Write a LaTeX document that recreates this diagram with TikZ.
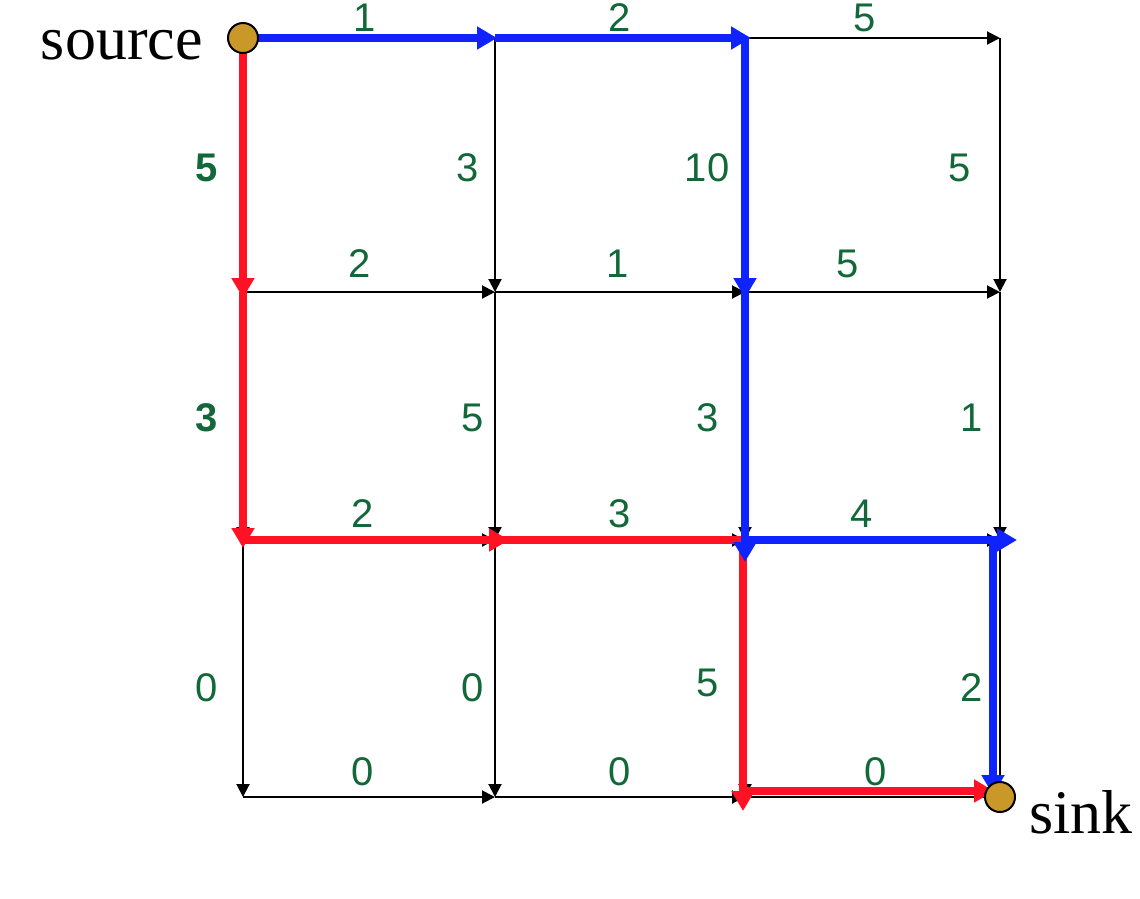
\documentclass[tikz,border=0pt]{standalone}
\usepackage{fontspec}
\setmainfont{Liberation Sans}
\newfontfamily\serifx{Liberation Serif}
\usetikzlibrary{arrows.meta,calc}
\definecolor{lblgreen}{RGB}{18,104,56}
\definecolor{pathblue}{RGB}{15,35,255}
\definecolor{pathred}{RGB}{255,18,35}
\definecolor{gold}{RGB}{202,152,40}
\begin{document}
\begin{tikzpicture}[x=1pt,y=-1pt,
  gridarrow/.style={draw=black,line width=2pt,-{Triangle[length=13pt,width=13pt]}},
  bluep/.style={draw=pathblue,line width=8pt,-{Triangle[length=20pt,width=22pt]}},
  redp/.style={draw=pathred,line width=8pt,-{Triangle[length=20pt,width=22pt]}},
  lbl/.style={text=lblgreen,font=\fontsize{40}{44}\selectfont,inner sep=0pt},
  termnode/.style={circle,draw=black,line width=2pt,fill=gold,minimum size=30pt,inner sep=0pt},
  termlbl/.style={font=\serifx\fontsize{62}{68}\selectfont,inner sep=0pt}]
\useasboundingbox (0,0) rectangle (1140,898);
% grid points
\foreach \c/\x in {0/243,1/495,2/745,3/1000}{
  \foreach \r/\y in {0/38,1/292,2/540,3/797}{
    \coordinate (n\r\c) at (\x,\y);
  }
}
% black grid arrows
\foreach \r in {0,1,2,3}{
  \draw[gridarrow] (n\r0) -- (n\r1);
  \draw[gridarrow] (n\r1) -- (n\r2);
  \draw[gridarrow] (n\r2) -- (n\r3);
}
\foreach \c in {0,1,2,3}{
  \draw[gridarrow] (n0\c) -- (n1\c);
  \draw[gridarrow] (n1\c) -- (n2\c);
  \draw[gridarrow] (n2\c) -- (n3\c);
}
% red path
\draw[redp] (n00) -- ($(n10)+(0,6)$);
\draw[redp] (n10) -- ($(n20)+(0,8)$);
\draw[redp] (n20) -- ($(n21)+(14,0)$);
\draw[redp,-] (n21) -- (n22);
\draw[redp] ($(n22)+(-2,0)$) -- ($(n32)+(-2,14)$);
\draw[redp] ($(n32)+(-2,-6)$) -- ($(n33)+(-6,-6)$);
% blue path
\draw[bluep] (n00) -- ($(n01)+(2,0)$);
\draw[bluep] (n01) -- ($(n02)+(6,0)$);
\draw[bluep] (n02) -- ($(n12)+(0,6)$);
\draw[bluep] (n12) -- ($(n22)+(0,22)$);
\draw[bluep] (n22) -- ($(n23)+(17,0)$);
\draw[bluep] ($(n23)+(-7,0)$) -- ($(n33)+(-7,-2)$);
% terminals
\node[termnode] (src) at (n00) {};
\node[termnode] (snk) at (n33) {};
\node[termlbl,anchor=east] (srclbl) at (203,45) {source};
\node[termlbl,anchor=west] (snklbl) at (1029,812) {sink};
% horizontal labels
\node[lbl] (h01) at (365,18) {1};
\node[lbl] (h02) at (620,18) {2};
\node[lbl] (h03) at (865,18) {5};
\node[lbl] (h11) at (360,264) {2};
\node[lbl] (h12) at (618,264) {1};
\node[lbl] (h13) at (848,264) {5};
\node[lbl] (h21) at (363,514) {2};
\node[lbl] (h22) at (620,514) {3};
\node[lbl] (h23) at (862,514) {4};
\node[lbl] (h31) at (363,772) {0};
\node[lbl] (h32) at (620,772) {0};
\node[lbl] (h33) at (876,772) {0};
% vertical labels
\node[lbl,font=\fontsize{40}{44}\selectfont\bfseries] (v10) at (207,168) {5};
\node[lbl,font=\fontsize{40}{44}\selectfont\bfseries] (v20) at (207,418) {3};
\node[lbl] (v30) at (207,688) {0};
\node[lbl] (v11) at (468,168) {3};
\node[lbl] (v21) at (473,418) {5};
\node[lbl] (v31) at (473,688) {0};
\node[lbl] (v12) at (707,168) {10};
\node[lbl] (v22) at (708,418) {3};
\node[lbl] (v32) at (708,683) {5};
\node[lbl] (v13) at (960,168) {5};
\node[lbl] (v23) at (972,418) {1};
\node[lbl] (v33) at (972,688) {2};
\end{tikzpicture}
\end{document}
